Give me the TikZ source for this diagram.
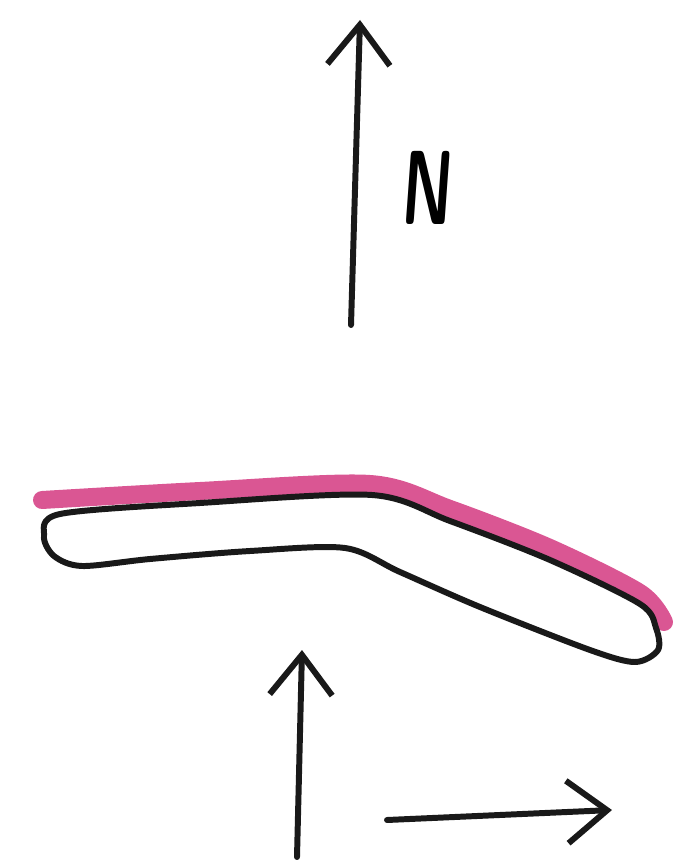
\documentclass[tikz,border=0pt]{standalone}
\usetikzlibrary{arrows.meta}
\definecolor{sketchpink}{RGB}{212,56,128}
\begin{document}
\begin{tikzpicture}[
  x=0.02cm, y=-0.02cm,
  pen/.style={line width=3.4pt, line cap=round, line join=round, black!90},
  arr/.style={pen, -{Straight Barb[length=0.8cm, width=1.25cm, line width=3.4pt]}},
  edgeline/.style={line width=0.36cm, line cap=round, sketchpink, opacity=0.85},
  label/.style={font=\sffamily\bfseries\fontsize{60}{60}\selectfont,
    xscale=0.6, xslant=0.12, inner sep=0pt}
]
\useasboundingbox (0,0) rectangle (676,868);

% North arrow
\coordinate (ntail) at (351,325);
\coordinate (ntip) at (360,20);
\draw[arr] (ntail) -- (ntip);
\node[label] (nlabel) at (428,188) {N};

% Magenta edge along the top of the shape
\draw[edgeline] plot[smooth, tension=0.5] coordinates {
  (42,500) (200,491) (370,484) (450,509) (550,548) (640,593) (664,622)};

% Bent outline
\draw[pen] plot[smooth cycle, tension=0.5] coordinates {
  (60,514) (200,503) (372,495) (450,521) (550,560) (640,604) (656,628)
  (658,650) (635,662) (590,650) (480,607) (400,572) (345,548)
  (250,551) (150,559) (82,566) (54,556) (44,536)};

% Bottom arrows
\coordinate (uptail) at (297,857);
\coordinate (uptip) at (302,650);
\draw[arr] (uptail) -- (uptip);
\coordinate (rtail) at (387,820);
\coordinate (rtip) at (612,810);
\draw[arr] (rtail) -- (rtip);

\end{tikzpicture}
\end{document}
